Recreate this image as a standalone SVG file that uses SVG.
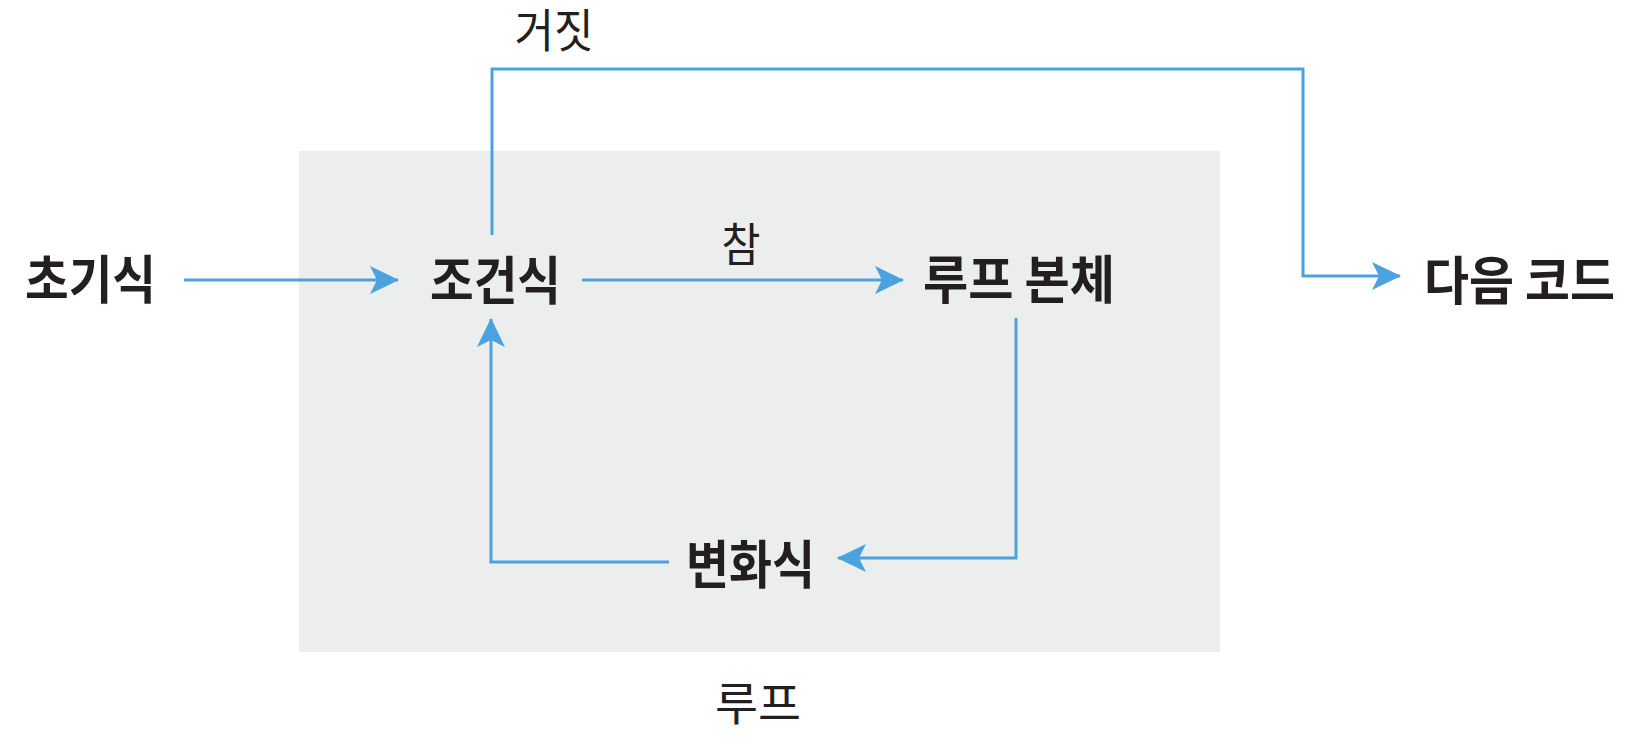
<svg xmlns="http://www.w3.org/2000/svg" width="1638" height="748" viewBox="0 0 1638 748">
<style>
.b{font-family:"Noto Sans CJK KR","Noto Sans",sans-serif;font-weight:700;font-size:52px;fill:#231f20;text-anchor:middle;dominant-baseline:central}
.r{font-family:"Noto Sans CJK KR","Noto Sans",sans-serif;font-weight:400;font-size:46px;fill:#231f20;text-anchor:middle;dominant-baseline:central}
.c{fill:none;stroke:#4aa3df;stroke-width:3;marker-end:url(#ah)}
</style>
<defs>
<marker id="ah" markerUnits="userSpaceOnUse" markerWidth="32" markerHeight="30" refX="28" refY="14" orient="auto">
<path d="M0,0 L29,14 L0,28 L7,14 z" fill="#4aa3df"/>
</marker>
</defs>
<rect width="1638" height="748" fill="#fff"/>
<g id="loop">
<rect x="299" y="151" width="921" height="501" fill="#eceeee"/>
<text class="r" x="758" y="700" textLength="86" lengthAdjust="spacingAndGlyphs">루프</text>
</g>
<g id="connectors">
<path class="c" d="M184,280 H398"/>
<path class="c" d="M582,280 H903"/>
<path class="c" d="M492,235 V69 H1303 V276 H1400"/>
<path class="c" d="M1016,318 V558 H838"/>
<path class="c" d="M669,562 H491 V319"/>
<text class="r" x="554" y="27" textLength="79" lengthAdjust="spacingAndGlyphs">거짓</text>
<text class="r" x="741" y="241" textLength="39" lengthAdjust="spacingAndGlyphs">참</text>
</g>
<g id="init"><text class="b" x="90.5" y="276" textLength="131" lengthAdjust="spacingAndGlyphs">초기식</text></g>
<g id="cond"><text class="b" x="495.5" y="277" textLength="131" lengthAdjust="spacingAndGlyphs">조건식</text></g>
<g id="body"><text class="b" x="1019" y="276" textLength="192" lengthAdjust="spacingAndGlyphs">루프 본체</text></g>
<g id="next"><text class="b" x="1519.5" y="277" textLength="191" lengthAdjust="spacingAndGlyphs">다음 코드</text></g>
<g id="update"><text class="b" x="750.5" y="561" textLength="129" lengthAdjust="spacingAndGlyphs">변화식</text></g>
</svg>
